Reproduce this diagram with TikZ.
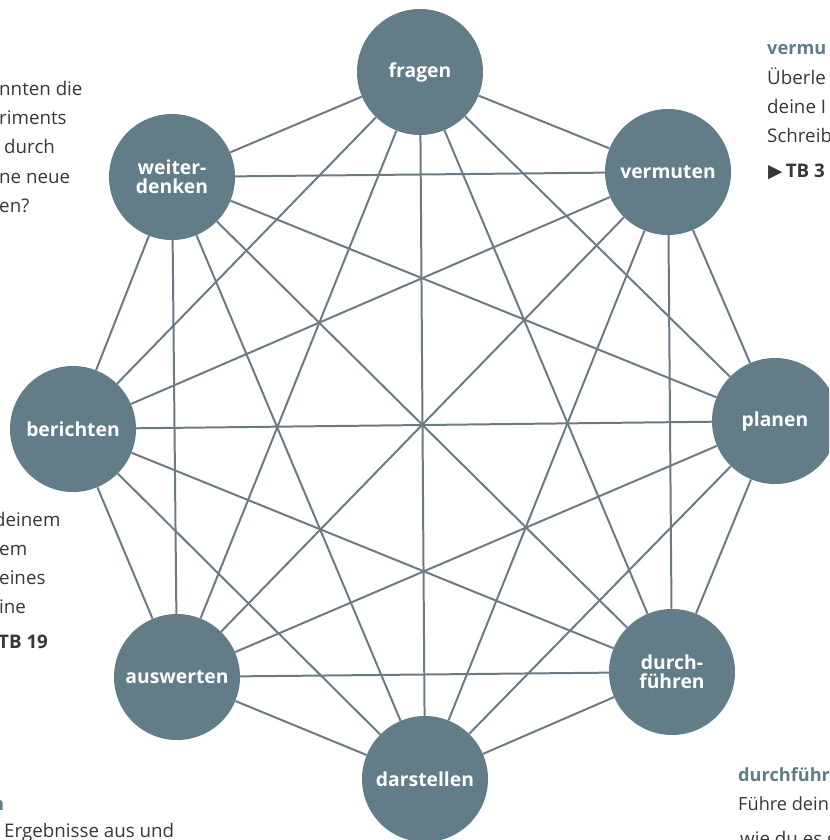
\documentclass[tikz,border=0pt]{standalone}
\usepackage{fontspec}
\setmainfont{Open Sans}
\newfontfamily\symfont{DejaVu Sans}
\definecolor{phasegrey}{RGB}{98,124,136}
\definecolor{linkgrey}{RGB}{108,122,131}
\definecolor{pagegrey}{RGB}{55,55,55}
\definecolor{headteal}{RGB}{95,125,135}
\tikzset{
PHASE/.style={circle,fill=phasegrey,draw=none,minimum size=3.78cm,inner sep=0pt,text=white,align=center,font=\bfseries\fontsize{16.5}{16.5}\selectfont},
LINK/.style={draw=linkgrey,line width=1.7pt},
PAGETEXT/.style={anchor=base west,inner sep=0pt,text=pagegrey,font=\fontsize{16}{25}\selectfont},
PAGEHEAD/.style={PAGETEXT,text=headteal,font=\bfseries\fontsize{15.5}{25}\selectfont},
}

\begin{document}
\begin{tikzpicture}[x=0.03cm,y=-0.03cm] %Kreislauf der Erkenntnis
	\useasboundingbox (0,0) rectangle (829,840);
	\clip (0,0) rectangle (829,840);
	% die acht Phasen
	\node[PHASE] (fr) at (420,72) {fragen};
	\node[PHASE] (ve) at (668,172) {vermuten};
	\node[PHASE] (pl) at (775,421) {planen};
	\node[PHASE] (du) at (672,672) {durch-\\führen};
	\node[PHASE] (da) at (425,779) {darstellen};
	\node[PHASE] (au) at (177,677) {auswerten};
	\node[PHASE] (be) at (73,429) {berichten};
	\node[PHASE] (we) at (172,177) {weiter-\\denken};
	% jede Phase mit jeder
	\path[LINK] (fr) -- (ve) (fr) -- (pl) (fr) -- (du) (fr) -- (da) (fr) -- (au) (fr) -- (be) (fr) -- (we);
	\path[LINK] (ve) -- (pl) (ve) -- (du) (ve) -- (da) (ve) -- (au) (ve) -- (be) (ve) -- (we);
	\path[LINK] (pl) -- (du) (pl) -- (da) (pl) -- (au) (pl) -- (be) (pl) -- (we);
	\path[LINK] (du) -- (da) (du) -- (au) (du) -- (be) (du) -- (we);
	\path[LINK] (da) -- (au) (da) -- (be) (da) -- (we);
	\path[LINK] (au) -- (be) (au) -- (we);
	\path[LINK] (be) -- (we);
	% angeschnittener Seitentext links oben
	\node[PAGETEXT] (lt1) at (-1,95) {nnten die};
	\node[PAGETEXT] (lt2) at (-1,124) {riments};
	\node[PAGETEXT] (lt3) at (4,153) {durch};
	\node[PAGETEXT] (lt4) at (-1,183) {ne neue};
	\node[PAGETEXT] (lt5) at (-1,212) {en?};
	% rechts oben
	\node[PAGEHEAD] (rt0) at (767,54) {vermu};
	\node[PAGETEXT] (rt1) at (767,84) {Überle};
	\node[PAGETEXT] (rt2) at (767,113) {deine I};
	\node[PAGETEXT] (rt3) at (767,142) {Schreib};
	\node[PAGETEXT,font=\bfseries\fontsize{16}{25}\selectfont] (rt4) at (768,177) {{\symfont ▶}\,TB 3};
	% links Mitte
	\node[PAGETEXT] (lm1) at (-6,526) {deinem};
	\node[PAGETEXT] (lm2) at (-1,555) {em};
	\node[PAGETEXT] (lm3) at (-1,584) {eines};
	\node[PAGETEXT] (lm4) at (-1,613) {ine};
	\node[PAGETEXT,font=\bfseries\fontsize{16}{25}\selectfont] (lm5) at (-2,648) {TB 19};
	% links unten
	\node[PAGEHEAD] (lb0) at (-8,810) {n};
	\node[PAGETEXT] (lb1) at (4,837) {Ergebnisse aus und};
	% rechts unten
	\node[PAGEHEAD] (rb0) at (738,781) {durchführ};
	\node[PAGETEXT,font=\fontsize{15.5}{25}\selectfont] (rb1) at (738,810) {Führe dein E};
	\node[PAGETEXT] (rb2) at (740,845) {wie du es ge};
\end{tikzpicture}
\end{document}
